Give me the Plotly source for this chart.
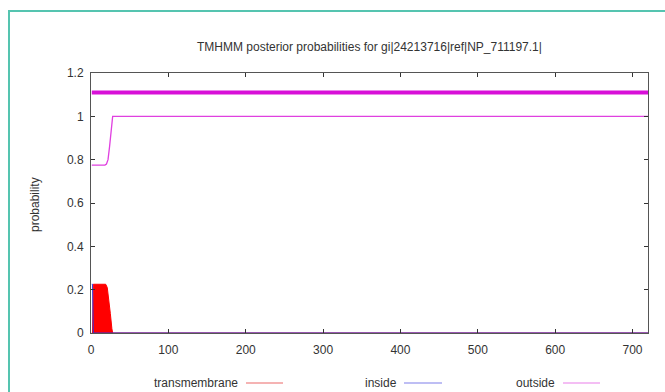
import plotly.graph_objects as go

# ---- data ----
outside_pos = [1, 18, 20, 22, 24, 26, 28, 720]
outside_prob = [0.775, 0.775, 0.78, 0.80, 0.86, 0.95, 1.0, 1.0]

tm_pos = [1, 2, 3, 19, 21, 23, 25, 27, 28, 720]
tm_prob = [0.0, 0.0, 0.225, 0.225, 0.21, 0.16, 0.09, 0.02, 0.0, 0.0]

inside_pos = [1, 2, 3, 720]
inside_prob = [0.225, 0.225, 0.0, 0.0]

topology_pos = [1, 720]
topology_level = [1.11, 1.11]

x_ticks = [0, 100, 200, 300, 400, 500, 600, 700]
y_ticks = [0, 0.2, 0.4, 0.6, 0.8, 1.0, 1.2]
y_tick_labels = ["0", "0.2", "0.4", "0.6", "0.8", "1", "1.2"]

legend_names = ["transmembrane", "inside", "outside"]
legend_colors = ["#f29a9a", "#a8a8f0", "#f0a8f0"]

title_text = "TMHMM posterior probabilities for gi|24213716|ref|NP_711197.1|"

# ---- figure ----
W, H = 665, 392
L, R, T, B = 91, 17, 73, 59
pw, ph = W - L - R, H - T - B

def px(x):
    return (x - L) / pw

def py(y):
    return (H - B - y) / ph

FONT = "Liberation Sans, Arial, sans-serif"
TXT = "#333333"

fig = go.Figure()
fig.add_trace(go.Scatter(x=tm_pos, y=tm_prob, mode="lines", name="transmembrane",
                         line=dict(color="#ff0000", width=1), fill="tozeroy",
                         fillcolor="#ff0000", showlegend=False))
fig.add_trace(go.Scatter(x=inside_pos, y=inside_prob, mode="lines", name="inside",
                         line=dict(color="#3030e0", width=1), showlegend=False))
fig.add_trace(go.Scatter(x=outside_pos, y=outside_prob, mode="lines", name="outside",
                         line=dict(color="#e040e0", width=1.3), showlegend=False))
fig.add_trace(go.Scatter(x=topology_pos, y=topology_level, mode="lines", name="outside topology",
                         line=dict(color="#d810d8", width=4), showlegend=False))

axis_common = dict(showgrid=False, zeroline=False, showline=True, linecolor="#555555",
                   linewidth=1, mirror="ticks", ticks="inside", ticklen=4,
                   tickcolor="#333333", tickwidth=1,
                   tickfont=dict(family=FONT, size=12, color=TXT))

fig.update_xaxes(range=[0, 720], tickvals=x_ticks, ticklabelstandoff=6, **axis_common)
fig.update_yaxes(range=[0, 1.2], tickvals=y_ticks, ticktext=y_tick_labels,
                 ticklabelstandoff=4, **axis_common)

annotations = [
    dict(text=title_text, x=0.5, y=py(47), xref="paper", yref="paper",
         showarrow=False, xanchor="center", yanchor="middle",
         font=dict(family=FONT, size=12, color=TXT)),
    dict(text="probability", x=px(35), y=py(205), xref="paper", yref="paper",
         showarrow=False, textangle=-90, xanchor="center", yanchor="middle",
         font=dict(family=FONT, size=12, color=TXT)),
]

shapes = []
legend_text_right = [240, 399, 557]
legend_line_x = [(246, 283), (404, 442), (563, 600)]
leg_y = 383
for name, col, tr, (x0, x1) in zip(legend_names, legend_colors, legend_text_right, legend_line_x):
    annotations.append(dict(text=name, x=px(tr), y=py(leg_y), xref="paper", yref="paper",
                            showarrow=False, xanchor="right", yanchor="middle",
                            font=dict(family=FONT, size=12, color=TXT)))
    shapes.append(dict(type="line", xref="paper", yref="paper",
                       x0=px(x0), x1=px(x1), y0=py(leg_y), y1=py(leg_y),
                       line=dict(color=col, width=1.5)))

# teal frame (left and top)
teal = "#55c4b0"
shapes.append(dict(type="line", xref="paper", yref="paper", x0=px(9), x1=px(9),
                   y0=py(11), y1=py(395), line=dict(color=teal, width=2)))
shapes.append(dict(type="line", xref="paper", yref="paper", x0=px(8), x1=px(670),
                   y0=py(11), y1=py(11), line=dict(color=teal, width=2)))

fig.update_layout(width=W, height=H, margin=dict(l=L, r=R, t=T, b=B),
                  plot_bgcolor="white", paper_bgcolor="white",
                  annotations=annotations, shapes=shapes, showlegend=False)

fig.write_html("out.html", config={"displayModeBar": False},
               post_script="document.body.style.margin='0';document.body.style.overflow='hidden';")
